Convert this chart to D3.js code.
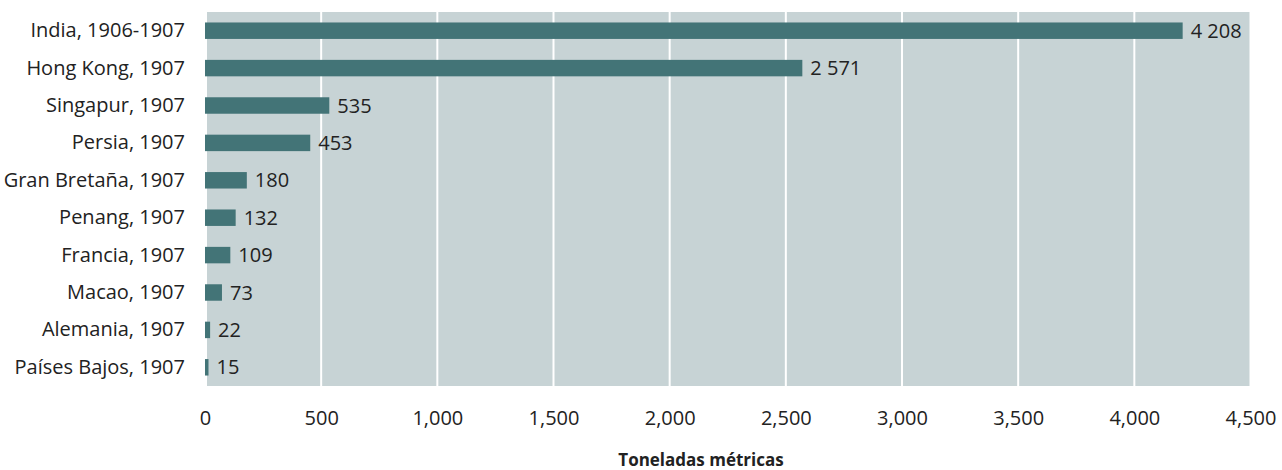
<!DOCTYPE html>
<html>
<head>
<meta charset="utf-8">
<script src="https://cdn.jsdelivr.net/npm/d3@7"></script>
<style>
  body { margin: 0; background: #fff; }
  text { font-family: "Open Sans", "Noto Sans", sans-serif; fill: #222; }
</style>
</head>
<body>
<div id="chart"></div>
<script>
// data
const places = ["India, 1906-1907", "Hong Kong, 1907", "Singapur, 1907", "Persia, 1907",
  "Gran Bretaña, 1907", "Penang, 1907", "Francia, 1907", "Macao, 1907",
  "Alemania, 1907", "Países Bajos, 1907"]
const tonnes = [4208, 2571, 535, 453, 180, 132, 109, 73, 22, 15]
const ticks = [0, 500, 1000, 1500, 2000, 2500, 3000, 3500, 4000, 4500]
const axisTitle = "Toneladas métricas"

const W = 1282, H = 470
const margin = {top: 12, left: 205, bottom: 84}
const fs = 20

const svg = d3.select("#chart").append("svg")
    .attr("width", W)
    .attr("height", H)

const x = d3.scaleLinear()
  .domain([0, 4500])
  .range([margin.left, 1250.5])

const y = d3.scaleBand()
  .domain(places)
  .range([margin.top, H - margin.bottom])
  .paddingInner(0.56)
  .paddingOuter(0.28)

// grey panel
svg.append("rect")
  .attr("x", x(0) + 2)
  .attr("y", margin.top)
  .attr("width", x(4500) - x(0) - 3)
  .attr("height", H - margin.bottom - margin.top)
  .attr("fill", "#c7d3d5")

// white grid lines
svg.append("g").selectAll("line")
  .data(ticks.slice(1, -1))
  .join("line")
    .attr("x1", d => x(d)).attr("x2", d => x(d))
    .attr("y1", margin.top).attr("y2", H - margin.bottom)
    .attr("stroke", "#fff")
    .attr("stroke-width", 2)

// bars
svg.append("g").selectAll("rect")
  .data(tonnes)
  .join("rect")
    .attr("x", x(0))
    .attr("y", (d, i) => y(places[i]))
    .attr("width", d => x(d) - x(0))
    .attr("height", y.bandwidth())
    .attr("fill", "#437477")

// value labels, space as thousands separator
const fmt = d3.formatLocale({decimal: ",", thousands: " ", grouping: [3], currency: ["", ""]}).format(",")
svg.append("g").selectAll("text")
  .data(tonnes)
  .join("text")
    .attr("x", d => x(d) + 8)
    .attr("y", (d, i) => y(places[i]) + y.bandwidth() / 2)
    .attr("dy", "0.35em")
    .attr("font-size", fs)
    .text(d => fmt(d))

// category labels
const yAxis = svg.append("g")
  .attr("transform", "translate(" + (margin.left - 20) + ",0)")
  .call(d3.axisLeft(y).tickSize(0).tickPadding(0))
yAxis.select(".domain").remove()
yAxis.selectAll("text")
  .attr("font-size", fs)
  .attr("font-family", null)
  .attr("fill", null)

// x axis
const xAxis = svg.append("g")
  .attr("transform", "translate(0," + (H - margin.bottom) + ")")
  .call(d3.axisBottom(x).tickValues(ticks).tickFormat(d3.format(",")).tickSize(0).tickPadding(25))
xAxis.select(".domain").remove()
xAxis.selectAll("text")
  .attr("font-size", fs)
  .attr("font-family", null)
  .attr("fill", null)

svg.append("text")
  .attr("x", 701)
  .attr("y", 466)
  .attr("text-anchor", "middle")
  .attr("font-size", 17)
  .attr("font-weight", "bold")
  .text(axisTitle)
</script>
</body>
</html>
